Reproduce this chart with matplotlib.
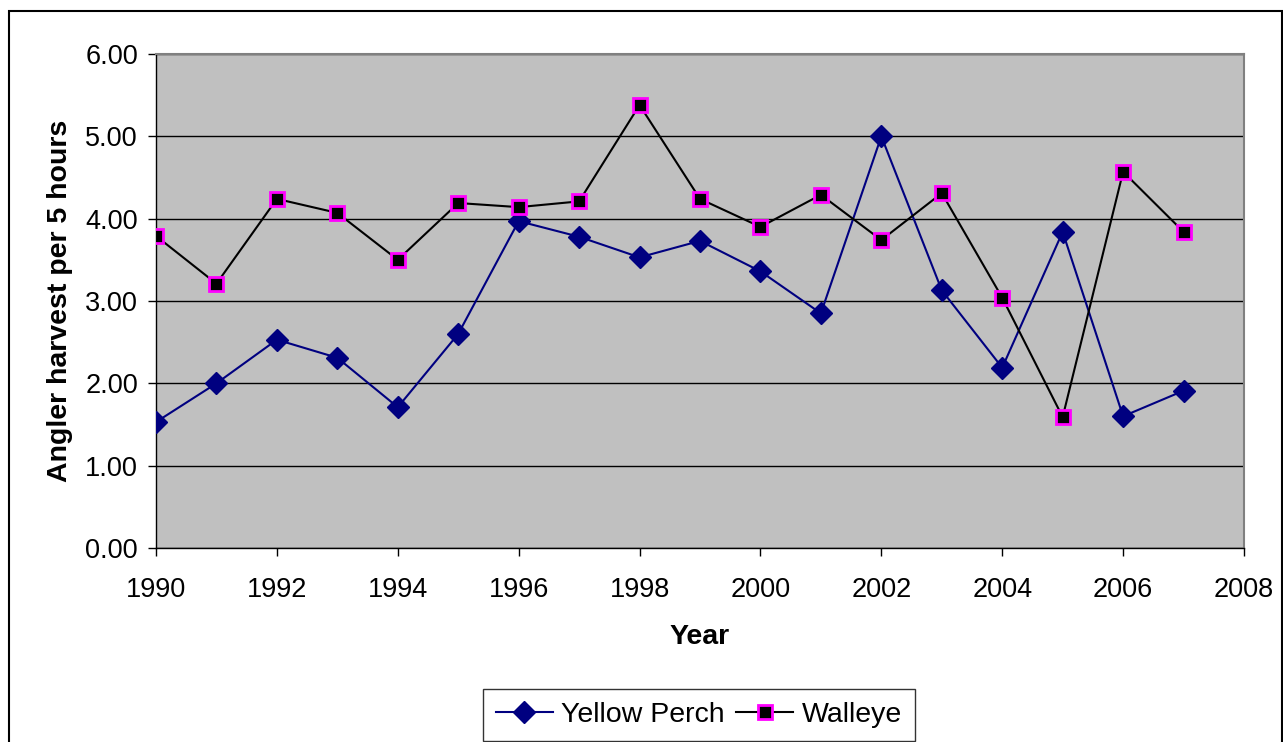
import matplotlib
matplotlib.use("Agg")
import matplotlib.pyplot as plt
from matplotlib.patches import Rectangle
from matplotlib.ticker import FormatStrFormatter, MultipleLocator

years = list(range(1990, 2008))
yellow_perch = [1.53, 2.00, 2.53, 2.31, 1.71, 2.60, 3.97, 3.78, 3.53, 3.73,
                3.36, 2.85, 5.00, 3.13, 2.19, 3.84, 1.60, 1.91]
walleye = [3.79, 3.21, 4.24, 4.07, 3.50, 4.19, 4.14, 4.21, 5.38, 4.24,
           3.90, 4.29, 3.74, 4.31, 3.04, 1.59, 4.57, 3.84]
series_labels = ["Yellow Perch", "Walleye"]
x_label = "Year"
y_label = "Angler harvest per 5 hours"

plt.rcParams['font.family'] = ['Liberation Sans', 'DejaVu Sans']

W, H = 1283, 742
fig = plt.figure(figsize=(W / 100, H / 100), dpi=100)
fig.patch.set_facecolor('white')

# outer chart border
fig.add_artist(Rectangle((9 / W, -0.05), (1282 - 9) / W, 1 - 11 / H + 0.05,
                         transform=fig.transFigure, fill=False,
                         edgecolor='black', linewidth=1.5, clip_on=False))

left, right, top, bottom = 156, 1244, 54, 548
ax = fig.add_axes([left / W, 1 - bottom / H, (right - left) / W, (bottom - top) / H])
ax.set_facecolor('#C0C0C0')

ax.plot(years, yellow_perch, color='#000080', linewidth=1.5, marker='D',
        markersize=11, markerfacecolor='#000080', markeredgecolor='#000080',
        label=series_labels[0], zorder=3)
ax.plot(years, walleye, color='black', linewidth=1.5, marker='s',
        markersize=10.5, markerfacecolor='black', markeredgecolor='#FF00FF',
        markeredgewidth=2.0, label=series_labels[1], zorder=3)

ax.set_xlim(1990, 2008)
ax.set_ylim(0, 6)
ax.xaxis.set_major_locator(MultipleLocator(2))
ax.yaxis.set_major_locator(MultipleLocator(1))
ax.yaxis.set_major_formatter(FormatStrFormatter('%.2f'))
ax.grid(axis='y', color='black', linewidth=1.0, zorder=1)
ax.set_axisbelow(True)

ax.tick_params(axis='both', direction='out', length=6, width=1, color='black',
               labelsize=19.5, pad=7)
ax.tick_params(axis='x', pad=15)

for s in ['top', 'right']:
    ax.spines[s].set_color('#808080')
    ax.spines[s].set_linewidth(1.5)
for s in ['left', 'bottom']:
    ax.spines[s].set_color('black')
    ax.spines[s].set_linewidth(1.0)

ax.set_xlabel(x_label, fontsize=20.5, fontweight='bold', labelpad=15)
ax.set_ylabel(y_label, fontsize=20.5, fontweight='bold', labelpad=9)

leg = fig.legend(loc='center', bbox_to_anchor=(699 / W, 1 - 715 / H), ncol=2,
                 fontsize=20.5, frameon=True, fancybox=False, edgecolor='black',
                 handlelength=2.0, handletextpad=0.3, columnspacing=0.4,
                 borderpad=0.45, borderaxespad=0)
leg.get_frame().set_linewidth(1.0)

fig.savefig('out.png', dpi=100)
